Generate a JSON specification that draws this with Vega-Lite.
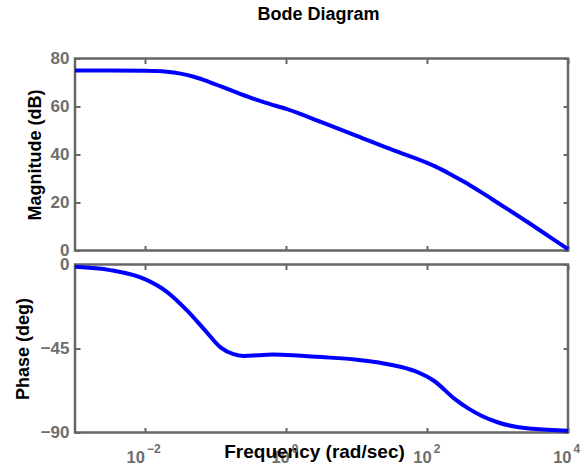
{
  "$schema": "https://vega.github.io/schema/vega-lite/v6.json",
  "padding": {"left": 13, "top": 5.5, "right": 0, "bottom": 0},
  "title": {"text": "Bode Diagram", "fontSize": 18, "font": "Liberation Sans", "fontWeight": "bold", "color": "black", "offset": 24, "anchor": "middle", "frame": "group", "dx": -3},
  "config": {
    "font": "Liberation Sans",
    "view": {"stroke": "#666666", "strokeWidth": 2.5},
    "axis": {"domain": false, "grid": false, "tickColor": "#666666", "tickSize": -5, "tickWidth": 2, "labelFont": "Liberation Sans", "labelFontSize": 17, "labelFontWeight": "bold", "labelColor": "#6e6e6e", "labelOverlap": false, "labelFlush": false, "titleFont": "Liberation Sans", "titleFontSize": 18, "titleFontWeight": "bold", "titleColor": "black"}
  },
  "datasets": {
    "mag": [
      {"w": 0.001, "db": 75}, {"w": 0.003162, "db": 75}, {"w": 0.01, "db": 74.9}, {"w": 0.01995, "db": 74.5},
      {"w": 0.03162, "db": 73.7}, {"w": 0.05012, "db": 72.3}, {"w": 0.07943, "db": 70.3}, {"w": 0.1259, "db": 68.1},
      {"w": 0.1995, "db": 65.8}, {"w": 0.3162, "db": 63.6}, {"w": 0.5012, "db": 61.6}, {"w": 1, "db": 59},
      {"w": 3.162, "db": 53.5}, {"w": 10, "db": 47.8}, {"w": 31.62, "db": 42}, {"w": 100, "db": 36.5},
      {"w": 158.5, "db": 33.8}, {"w": 251.2, "db": 30.6}, {"w": 398.1, "db": 27.3}, {"w": 631, "db": 23.7},
      {"w": 1000, "db": 19.9}, {"w": 1778, "db": 15.2}, {"w": 3162, "db": 10.4}, {"w": 5623, "db": 5.5}, {"w": 10000, "db": 0.6}
    ],
    "phase": [
      {"w": 0.001, "deg": -1.2}, {"w": 0.003162, "deg": -3}, {"w": 0.01, "deg": -8}, {"w": 0.01995, "deg": -14.5},
      {"w": 0.03981, "deg": -25}, {"w": 0.06918, "deg": -35}, {"w": 0.1175, "deg": -44.5}, {"w": 0.1778, "deg": -48},
      {"w": 0.2512, "deg": -49}, {"w": 0.3981, "deg": -48.6}, {"w": 0.631, "deg": -48.2}, {"w": 1, "deg": -48.5},
      {"w": 3.162, "deg": -49.6}, {"w": 10, "deg": -51}, {"w": 31.62, "deg": -53.8}, {"w": 66.07, "deg": -57},
      {"w": 125.9, "deg": -62.4}, {"w": 245.5, "deg": -72}, {"w": 398.1, "deg": -77.5}, {"w": 588.8, "deg": -81},
      {"w": 1000, "deg": -84.5}, {"w": 1738, "deg": -86.8}, {"w": 3162, "deg": -88}, {"w": 10000, "deg": -89.1}
    ]
  },
  "spacing": 14,
  "bounds": "flush",
  "vconcat": [
    {
      "width": 493, "height": 192,
      "data": {"name": "mag"},
      "layer": [
        {
          "mark": {"type": "line", "color": "#0000ff", "strokeWidth": 4, "interpolate": "monotone"},
          "encoding": {
            "x": {"field": "w", "type": "quantitative", "scale": {"type": "log", "domain": [0.001, 10000], "nice": false},
                  "axis": {"orient": "bottom", "values": [0.01, 1, 100, 10000], "labels": false, "title": null}},
            "y": {"field": "db", "type": "quantitative", "scale": {"domain": [0, 80], "nice": false, "zero": false},
                  "axis": {"orient": "left", "values": [0, 20, 40, 60, 80], "labelPadding": 11, "title": "Magnitude (dB)", "titleX": -40, "titleBaseline": "middle"}}
          }
        },
        {
          "mark": {"type": "line", "strokeOpacity": 0},
          "encoding": {
            "x": {"field": "w", "type": "quantitative", "scale": {"type": "log", "domain": [0.001, 10000], "nice": false},
                  "axis": {"orient": "top", "values": [0.01, 1, 100, 10000], "labels": false, "title": null}},
            "y": {"field": "db", "type": "quantitative", "scale": {"domain": [0, 80], "nice": false, "zero": false},
                  "axis": {"orient": "right", "values": [0, 20, 40, 60, 80], "labels": false, "title": null}}
          }
        }
      ],
      "resolve": {"axis": {"x": "independent", "y": "independent"}}
    },
    {
      "width": 493, "height": 168,
      "data": {"name": "phase"},
      "layer": [
        {
          "mark": {"type": "line", "color": "#0000ff", "strokeWidth": 4, "interpolate": "monotone"},
          "encoding": {
            "x": {"field": "w", "type": "quantitative", "scale": {"type": "log", "domain": [0.001, 10000], "nice": false},
                  "axis": {"orient": "bottom", "values": [0.01, 1, 100, 10000], "labelPadding": 35, "labelBaseline": "alphabetic",
                           "labelFontSize": 16.5, "labelAlign": "right",
                           "labelOffset": {"condition": [{"test": "datum.value < 0.1", "value": -1}, {"test": "datum.value < 10", "value": 3}, {"test": "datum.value < 1000", "value": 4}], "value": 3},
                           "labelExpr": "'10'",
                           "title": "Frequency  (rad/sec)", "titleFontSize": 19, "titleX": 239, "titleY": 25, "titleBaseline": "alphabetic"}},
            "y": {"field": "deg", "type": "quantitative", "scale": {"domain": [-90, 0], "nice": false, "zero": false},
                  "axis": {"orient": "left", "values": [-90, -45, 0], "labelPadding": 11, "title": "Phase (deg)", "titleX": -51.5, "titleBaseline": "middle"}}
          }
        },
        {
          "mark": {"type": "line", "strokeOpacity": 0},
          "encoding": {
            "x": {"field": "w", "type": "quantitative", "scale": {"type": "log", "domain": [0.001, 10000], "nice": false},
                  "axis": {"orient": "top", "values": [0.01, 1, 100, 10000], "labels": false, "title": null}},
            "y": {"field": "deg", "type": "quantitative", "scale": {"domain": [-90, 0], "nice": false, "zero": false},
                  "axis": {"orient": "right", "values": [-90, -45, 0], "labels": false, "title": null}}
          }
        },
        {
          "mark": {"type": "line", "strokeOpacity": 0},
          "encoding": {
            "x": {"field": "w", "type": "quantitative", "scale": {"type": "log", "domain": [0.001, 10000], "nice": false},
                  "axis": {"orient": "bottom", "values": [0.01, 1, 100, 10000], "ticks": false, "labelPadding": 20, "labelBaseline": "alphabetic",
                           "labelFontSize": 12, "labelAlign": "left",
                           "labelOffset": {"condition": [{"test": "datum.value < 0.1", "value": 1}, {"test": "datum.value < 10", "value": 5}, {"test": "datum.value < 1000", "value": 6}], "value": 5},
                           "labelExpr": "datum.value < 0.1 ? '−2' : datum.value < 10 ? '0' : datum.value < 1000 ? '2' : '4'",
                           "title": null}},
            "y": {"field": "deg", "type": "quantitative", "scale": {"domain": [-90, 0], "nice": false, "zero": false}, "axis": null}
          }
        }
      ],
      "resolve": {"axis": {"x": "independent", "y": "independent"}}
    }
  ]
}
